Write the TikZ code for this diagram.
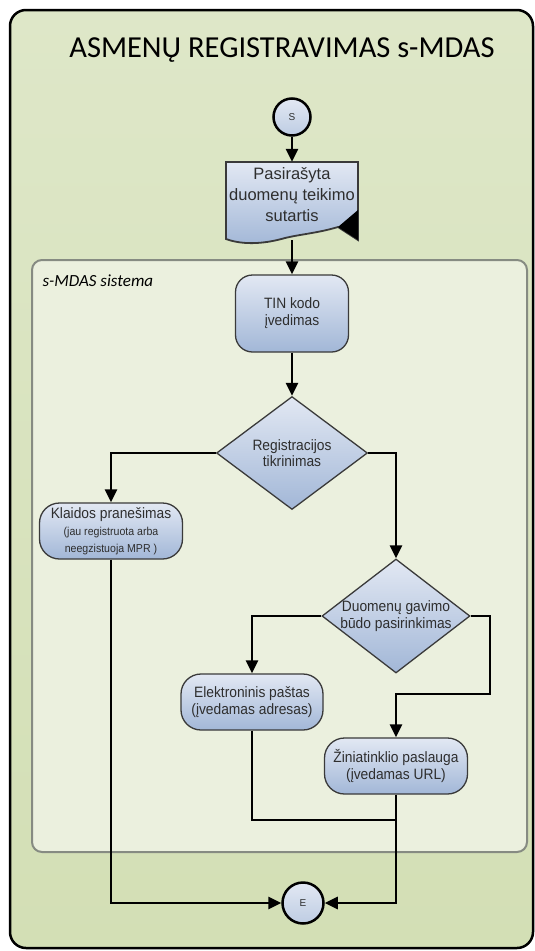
\documentclass[tikz,border=0pt]{standalone}
\usepackage{fontspec}
\setmainfont{Liberation Sans}
\newfontfamily\titlefont{Carlito}
\newfontfamily\boxfont{Liberation Sans}[FakeStretch=0.92]
\usetikzlibrary{shapes.geometric,arrows.meta}

\definecolor{bgtop}{HTML}{DEE7C8}
\definecolor{bgbot}{HTML}{D3DFB5}
\definecolor{sysfill}{HTML}{EBF0DE}
\definecolor{sysline}{HTML}{868B82}
\definecolor{boxtop}{HTML}{E2E8F3}
\definecolor{boxbot}{HTML}{A2B7D7}
\definecolor{boxline}{HTML}{3A3A3A}
\definecolor{boxtext}{HTML}{2E2E2E}

\newcommand\smalltxt{\fontsize{11.5}{16}\selectfont}

\begin{document}
\begin{tikzpicture}[x=1pt,y=-1pt,
    flow/.style={line width=2.8pt,-{Triangle[length=13pt,width=12pt]}},
    joinline/.style={line width=2.8pt},
    stepbox/.style={draw=boxline,line width=1.3pt,rounded corners=20pt,
        top color=boxtop,bottom color=boxbot,align=center,inner sep=0pt,
        text=boxtext,font=\boxfont\fontsize{15}{17}\selectfont},
    decision/.style={diamond,aspect=1.3,draw=boxline,line width=1.3pt,
        top color=boxtop,bottom color=boxbot,align=center,
        inner xsep=-8pt,inner ysep=-2pt,
        text=boxtext,font=\boxfont\fontsize{15}{16.5}\selectfont},
    terminal/.style={circle,draw=black,line width=2.5pt,
        top color=boxtop,bottom color=boxbot!70,inner sep=0pt,
        text=boxtext,font=\fontsize{10}{12}\selectfont}]

    \useasboundingbox (0,0) rectangle (535,951);
    \fill[white] (0,0) rectangle (535,951);

    % frame and swimlane
    \draw[line width=2.5pt,rounded corners=16pt,top color=bgtop,bottom color=bgbot]
        (10,10) rectangle (533,948);
    \draw[draw=sysline,line width=2pt,rounded corners=10pt,fill=sysfill]
        (32,260) rectangle (527,852);

    \node[anchor=base] (title) at (282,57)
        {\titlefont\fontsize{30.5}{34}\selectfont ASMENŲ REGISTRAVIMAS s-MDAS};
    \node[anchor=base west] (syslabel) at (39,286)
        {\titlefont\itshape\fontsize{17}{20}\selectfont s-MDAS sistema};

    % document shape
    \draw[draw=boxline,line width=1.8pt,top color=boxtop,bottom color=boxbot]
        (226,162) -- (358,162) -- (358,240) -- (338,227)
        .. controls (318,233) and (302,234) .. (285,238)
        .. controls (268,243) and (245,246) .. (226,239) -- cycle;
    \fill[black] (358,210) -- (358,240) -- (338,227) -- cycle;

    \node[minimum width=133pt,minimum height=78pt,inner sep=0pt,text=boxtext,
          font=\fontsize{16.5}{21}\selectfont] (doc) at (292,201)
        {\raisebox{0pt}[31pt][31pt]{\begin{tabular}{@{}c@{}}Pasirašyta\\duomenų teikimo\\sutartis\end{tabular}}};

    % nodes
    \node[terminal,minimum size=37pt] (start) at (292,117) {S};
    \node[stepbox,rounded corners=17pt,minimum width=113pt,minimum height=77pt] (tin) at (292,313.5)
        {TIN kodo\\įvedimas};
    \node[decision,minimum width=151pt,minimum height=113pt] (reg) at (292,453)
        {Registracijos\\tikrinimas};
    \node[stepbox,minimum width=143pt,minimum height=56pt] (klaida) at (111,531)
        {Klaidos pranešimas\\\smalltxt(jau registruota arba\\\smalltxt neegzistuoja MPR )};
    \node[decision,minimum width=148pt,minimum height=114pt] (budas) at (396,616)
        {Duomenų gavimo\\būdo pasirinkimas};
    \node[stepbox,minimum width=142pt,minimum height=56pt] (epastas) at (252,702)
        {Elektroninis paštas\\(įvedamas adresas)};
    \node[stepbox,minimum width=143pt,minimum height=56pt] (zin) at (396,766)
        {Žiniatinklio paslauga\\(įvedamas URL)};
    \node[terminal,minimum size=41pt] (end) at (303,903) {E};

    \coordinate (bend) at (490,694);
    \coordinate (join) at (396,820);

    % connectors
    \draw[flow] (start) -- (doc);
    \draw[flow] (doc) -- (tin);
    \draw[flow] (tin) -- (reg);
    \draw[flow] (reg.west) -| (klaida.north);
    \draw[flow] (reg.east) -| (budas.north);
    \draw[flow] (budas.west) -| (epastas.north);
    \draw[flow] (budas.east) -| (bend) -| (zin.north);
    \draw[joinline] (epastas.south) |- (join);
    \draw[flow] (klaida.south) |- (end.west);
    \draw[flow] (zin.south) |- (end.east);
\end{tikzpicture}
\end{document}
